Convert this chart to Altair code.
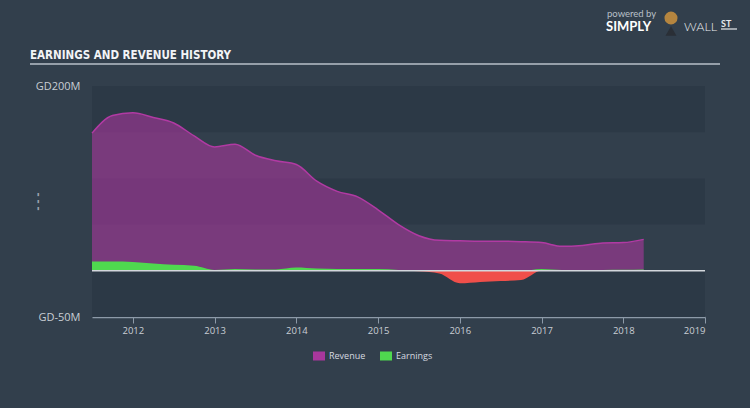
import altair as alt
import pandas as pd

# ---------------- data ----------------
quarters = [2011.5, 2011.75, 2012.0, 2012.25, 2012.5, 2012.75, 2013.0, 2013.25,
            2013.5, 2013.75, 2014.0, 2014.25, 2014.5, 2014.75, 2015.0, 2015.25,
            2015.5, 2015.75, 2016.0, 2016.25, 2016.5, 2016.75, 2017.0, 2017.25,
            2017.5, 2017.75, 2018.0, 2018.25]
revenue = [149, 168, 171, 166, 160, 146, 134, 137,
           125, 119, 115, 97, 86, 80, 66, 50,
           38, 33, 32.5, 32, 32, 31.5, 30.5, 26.5,
           27.5, 30, 30.5, 34]
earnings = [10, 10, 9.5, 8, 6.5, 5.5, 1, 2,
            1.5, 1.5, 3.5, 2.5, 2, 2, 2, 1,
            -0.5, -3, -13.5, -12, -11, -10, 2, 1,
            1, 1, 1.2, 1.5]
years = [2012, 2013, 2014, 2015, 2016, 2017, 2018, 2019]
x_domain = [2011.5, 2019]
y_domain = [-50, 200]
y_label_values = [-50, 200]
band_top = [200, 100, 0]
band_bottom = [150, 50, -50]
series_names = ["Revenue", "Earnings"]
legend_colors = ["#a8379c", "#4fd84f"]

# ---------------- layout ----------------
W, H = 613, 231
OX, OY = 92, 86
BG = "#323f4c"
BAND = "#2c3946"
TXT = "#c9ced4"

df = pd.DataFrame({"t": quarters, "revenue": revenue, "earnings": earnings})
bands = pd.DataFrame({"hi": band_top, "lo": band_bottom,
                      "x0": [x_domain[0]] * len(band_top),
                      "x1": [x_domain[1]] * len(band_top)})

xscale = alt.Scale(domain=x_domain, nice=False, zero=False)
yscale = alt.Scale(domain=y_domain, nice=False, zero=False)
fill_scale = alt.Scale(domain=series_names, range=legend_colors)

x_axis = alt.Axis(values=years, format="d", title=None, grid=False,
                  domainColor="#8d9aa8", domainWidth=1.5, tickColor="#8d9aa8",
                  tickSize=6, tickWidth=1, labelColor=TXT, labelFontSize=9.5,
                  labelFont="Open Sans", labelPadding=2)
y_axis = alt.Axis(values=y_label_values, labelExpr="'GD' + datum.value + 'M'",
                  domain=False, ticks=False, grid=False, labelPadding=12,
                  labelColor=TXT, labelFontSize=11, labelFont="Open Sans",
                  title="- - -", titleAngle=270, titleX=37 - OX, titleY=201 - OY,
                  titleAlign="center", titleBaseline="middle", titleColor="#9aa3ad",
                  titleFontSize=12, titleFontWeight="bold", titleFont="Open Sans")


def X(field):
    return alt.X(field, scale=xscale, axis=x_axis)


def Y(field):
    return alt.Y(field, scale=yscale, axis=y_axis)


band_layer = alt.Chart(bands).mark_rect(color=BAND).encode(
    x=X("x0:Q"), x2="x1:Q", y=Y("hi:Q"), y2="lo:Q",
)

legend = alt.Legend(title=None, orient="none", legendX=221, legendY=264,
                    direction="horizontal", symbolType="M-1,-0.75L1,-0.75L1,0.75L-1,0.75Z",
                    symbolSize=144, symbolOpacity=1, symbolStrokeWidth=0,
                    labelFontSize=9, labelColor="#d6dae0", labelFont="Open Sans",
                    labelOffset=4, columnPadding=14, padding=0)

rev_area = alt.Chart(df).transform_calculate(series="'Revenue'").mark_area(
    interpolate="monotone", fillOpacity=0.6
).encode(
    x=X("t:Q"), y=Y("revenue:Q"), y2=alt.datum(0),
    fill=alt.Fill("series:N", scale=fill_scale, legend=legend),
)

rev_line = alt.Chart(df).mark_line(interpolate="monotone", color="#b13aa3", strokeWidth=1.5).encode(
    x=X("t:Q"), y=Y("revenue:Q"),
)

earn_pos = alt.Chart(df).transform_calculate(
    series="'Earnings'", pos="max(datum.earnings, 0)"
).mark_area(interpolate="monotone", fillOpacity=1).encode(
    x=X("t:Q"), y=Y("pos:Q"), y2=alt.datum(0),
    fill=alt.Fill("series:N", scale=fill_scale, legend=legend),
)

earn_neg = alt.Chart(df).transform_calculate(
    neg="min(datum.earnings, 0)"
).mark_area(interpolate="monotone", color="#f04f4a").encode(
    x=X("t:Q"), y=Y("neg:Q"), y2=alt.datum(0),
)

zero_rule = alt.Chart(pd.DataFrame({"z": [0]})).mark_rule(color="#d3d7dc", strokeWidth=1.5).encode(
    y=Y("z:Q")
)


def one(text):
    return alt.Chart(pd.DataFrame({"s": [text]}))


def label(text, x, y, size, color, weight="normal", font="Open Sans", align="left"):
    return one(text).mark_text(align=align, baseline="middle", fontSize=size, color=color,
                               fontWeight=weight, font=font).encode(
        text="s:N", x=alt.value(x - OX), y=alt.value(y - OY))


title = one("EARNINGS AND REVENUE HISTORY").mark_text(
    align="left", baseline="alphabetic", fontSize=11.5, fontWeight="bold", color="#f2f4f6",
    font="Liberation Sans Narrow, DejaVu Sans Condensed, sans-serif"
).encode(text="s:N", x=alt.value(30 - OX), y=alt.value(59 - OY))

title_rule = one("u").mark_rule(color="#b9c0c8", strokeWidth=1.5).encode(
    x=alt.value(30 - OX), x2=alt.value(720 - OX), y=alt.value(64 - OY))

powered = label("powered by", 607, 14, 9.5, "#b9c0c8", font="Lato")
simply = label("SIMPLY", 606, 26.5, 13, "#ffffff", weight="bold", font="Lato")
wall = label("WALL", 684, 26.5, 12.5, "#e8ebee", weight=300, font="Lato")
st = label("ST", 721, 23.5, 9, "#e8ebee", weight="bold", font="Lato")
st_rule = one("u").mark_rule(color="#e8ebee", strokeWidth=1.2).encode(
    x=alt.value(721 - OX), x2=alt.value(737 - OX), y=alt.value(29 - OY))
bull = one("b").mark_point(shape="circle", filled=True, size=170, color="#b5853f", opacity=1).encode(
    x=alt.value(671 - OX), y=alt.value(18 - OY))
suit = one("b").mark_point(shape="triangle-up", filled=True, size=120, color="#2a2f36", opacity=1).encode(
    x=alt.value(671 - OX), y=alt.value(31 - OY))

chart = alt.layer(
    band_layer, rev_area, rev_line, earn_pos, earn_neg, zero_rule,
    title, title_rule, powered, simply, wall, st, st_rule, suit, bull
).properties(
    width=W, height=H,
    padding={"left": OX, "top": OY, "right": 750 - OX - W, "bottom": 408 - OY - H},
    autosize=alt.AutoSizeParams(type="none"),
).configure(background=BG).configure_view(stroke=None)

chart.save("out.html", embed_options={"renderer": "svg", "actions": False})
